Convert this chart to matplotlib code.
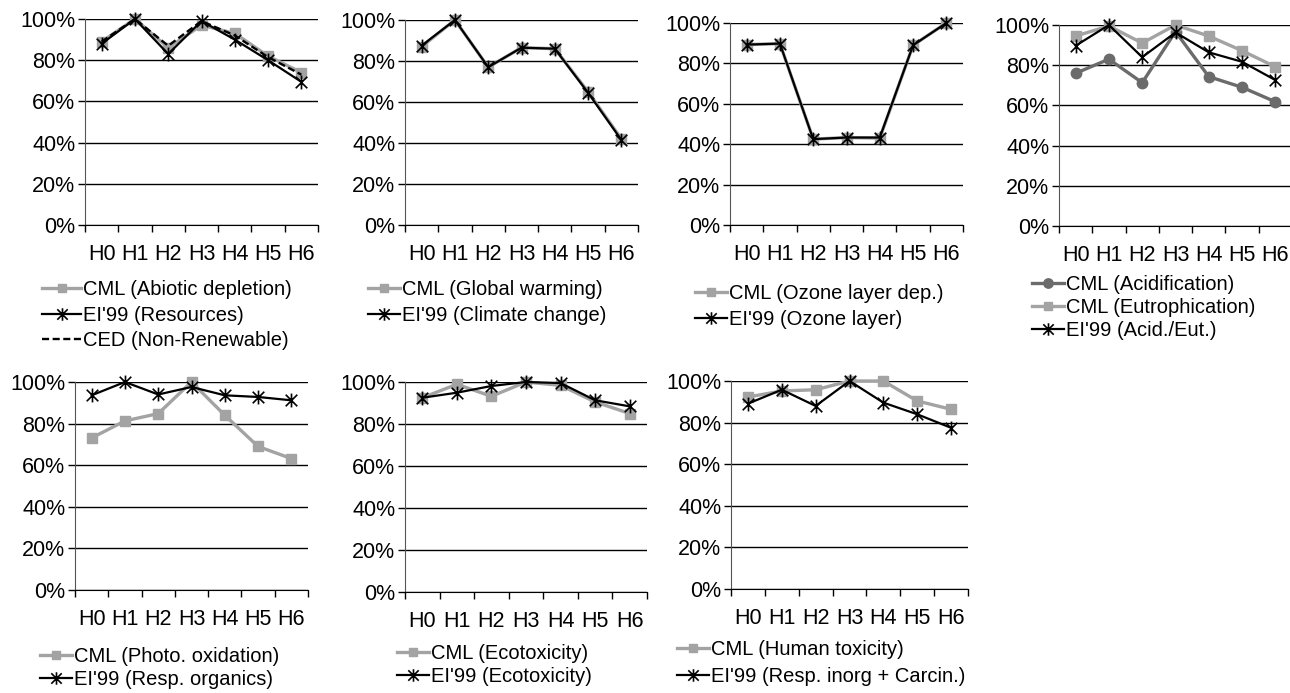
import numpy as np
import matplotlib
matplotlib.use("Agg")
import matplotlib.pyplot as plt
from matplotlib.path import Path
from matplotlib.ticker import FixedLocator, PercentFormatter

plt.rcParams['font.family'] = ['Liberation Sans', 'DejaVu Sans']

# categories
cats = ['H0', 'H1', 'H2', 'H3', 'H4', 'H5', 'H6']

# panel 1
abiotic_cml = [0.89, 1.00, 0.86, 0.97, 0.93, 0.82, 0.74]
resources_ei99 = [0.88, 1.00, 0.83, 0.99, 0.90, 0.80, 0.695]
nonrenew_ced = [0.89, 1.00, 0.87, 0.99, 0.92, 0.815, 0.73]
# panel 2
gw_cml = [0.87, 1.00, 0.77, 0.865, 0.86, 0.65, 0.42]
cc_ei99 = [0.875, 1.00, 0.77, 0.865, 0.86, 0.645, 0.415]
# panel 3
ozone_cml = [0.893, 0.898, 0.425, 0.433, 0.43, 0.89, 1.00]
ozone_ei99 = [0.893, 0.898, 0.425, 0.433, 0.433, 0.89, 1.00]
# panel 4
acid_cml = [0.76, 0.83, 0.713, 0.967, 0.743, 0.69, 0.618]
eutro_cml = [0.945, 0.995, 0.91, 1.00, 0.945, 0.872, 0.792]
acideut_ei99 = [0.897, 1.00, 0.84, 0.963, 0.864, 0.817, 0.726]
# panel 5
photo_cml = [0.731, 0.813, 0.848, 1.00, 0.84, 0.69, 0.632]
resporg_ei99 = [0.936, 1.00, 0.94, 0.976, 0.936, 0.928, 0.912]
# panel 6
eco_cml = [0.925, 0.989, 0.932, 1.00, 0.984, 0.905, 0.85]
eco_ei99 = [0.925, 0.949, 0.981, 1.00, 0.995, 0.913, 0.884]
# panel 7
humtox_cml = [0.923, 0.952, 0.958, 1.00, 1.00, 0.904, 0.864]
respinorg_ei99 = [0.891, 0.958, 0.88, 1.00, 0.896, 0.84, 0.775]

# excel-like star marker: an X with a vertical bar
star = Path([(-1, -1), (1, 1), (-1, 1), (1, -1), (0, -1.2), (0, 1.2)],
            [Path.MOVETO, Path.LINETO, Path.MOVETO, Path.LINETO, Path.MOVETO, Path.LINETO])

styles = {
    'sq': dict(color='#a3a3a3', lw=2.4, marker='s', ms=7, mec='#a3a3a3', mfc='#a3a3a3'),
    'circ': dict(color='#6b6b6b', lw=2.4, marker='o', ms=7.5, mec='#6b6b6b', mfc='#6b6b6b'),
    'star': dict(color='black', lw=1.6, marker=star, ms=10, mew=1.2, mec='black', mfc='none'),
    'dash': dict(color='black', lw=1.7, ls=(0, (3, 1.5))),
}

W, H = 1290, 693

# (left, right, top, bottom) px, legend anchor (x, y) px, row spacing, handle length, series
panels = [
    ((85, 318, 19, 225), (42, 280), 0.33, 1.95,
     [(abiotic_cml, 'CML (Abiotic depletion)', 'sq'),
      (resources_ei99, "EI'99 (Resources)", 'star'),
      (nonrenew_ced, 'CED (Non-Renewable)', 'dash')]),
    ((405, 638, 20, 225), (368, 280), 0.33, 1.6,
     [(gw_cml, 'CML (Global warming)', 'sq'),
      (cc_ei99, "EI'99 (Climate change)", 'star')]),
    ((730, 963, 23, 225), (695, 284), 0.33, 1.6,
     [(ozone_cml, 'CML (Ozone layer dep.)', 'sq'),
      (ozone_ei99, "EI'99 (Ozone layer)", 'star')]),
    ((1059, 1292, 25, 226), (1032, 275), 0.2, 1.6,
     [(acid_cml, 'CML (Acidification)', 'circ'),
      (eutro_cml, 'CML (Eutrophication)', 'sq'),
      (acideut_ei99, "EI'99 (Acid./Eut.)", 'star')]),
    ((75, 308, 382, 590), (40, 647), 0.2, 1.6,
     [(photo_cml, 'CML (Photo. oxidation)', 'sq'),
      (resporg_ei99, "EI'99 (Resp. organics)", 'star')]),
    ((405, 647, 382, 592), (397, 644), 0.18, 1.6,
     [(eco_cml, 'CML (Ecotoxicity)', 'sq'),
      (eco_ei99, "EI'99 (Ecotoxicity)", 'star')]),
    ((731, 968, 381, 589), (677, 640), 0.42, 1.6,
     [(humtox_cml, 'CML (Human toxicity)', 'sq'),
      (respinorg_ei99, "EI'99 (Resp. inorg + Carcin.)", 'star')]),
]

fs = 14.5
tfs = 15.5
fig = plt.figure(figsize=(W / 100, H / 100), dpi=100)

for (l, r, t, b), (lx, ly), spacing, hlen, series in panels:
    ax = fig.add_axes([l / W, 1 - b / H, (r - l) / W, (b - t) / H])
    x = np.arange(len(cats))
    for vals, lab, st in series:
        ax.plot(x, vals, label=lab, clip_on=False, **styles[st])
    ax.set_xlim(-0.5, len(cats) - 0.5)
    ax.set_ylim(0, 1)
    ax.yaxis.set_major_locator(FixedLocator(np.linspace(0, 1, 6)))
    ax.yaxis.set_major_formatter(PercentFormatter(1.0, decimals=0))
    ax.set_xticks(np.arange(-0.5, len(cats), 1.0))
    ax.set_xticklabels([])
    ax.set_xticks(x, minor=True)
    ax.set_xticklabels(cats, minor=True)
    ax.tick_params(axis='x', which='major', direction='out', length=5, width=1, color='black')
    ax.tick_params(axis='x', which='minor', length=0, pad=14, labelsize=tfs)
    ax.tick_params(axis='y', direction='out', length=5, width=1, labelsize=tfs, pad=2)
    ax.grid(axis='y', color='black', lw=1)
    ax.set_axisbelow(True)
    for s in ['top', 'right']:
        ax.spines[s].set_visible(False)
    ax.spines['left'].set_color('#555555')
    ax.spines['bottom'].set_color('black')
    ax.legend(loc='upper left', bbox_to_anchor=(lx / W, 1 - ly / H),
              bbox_transform=fig.transFigure, frameon=False, fontsize=fs,
              handlelength=hlen, handletextpad=0.1, borderpad=0, borderaxespad=0,
              labelspacing=spacing, markerscale=0.9)

fig.savefig('out.png', dpi=100)
